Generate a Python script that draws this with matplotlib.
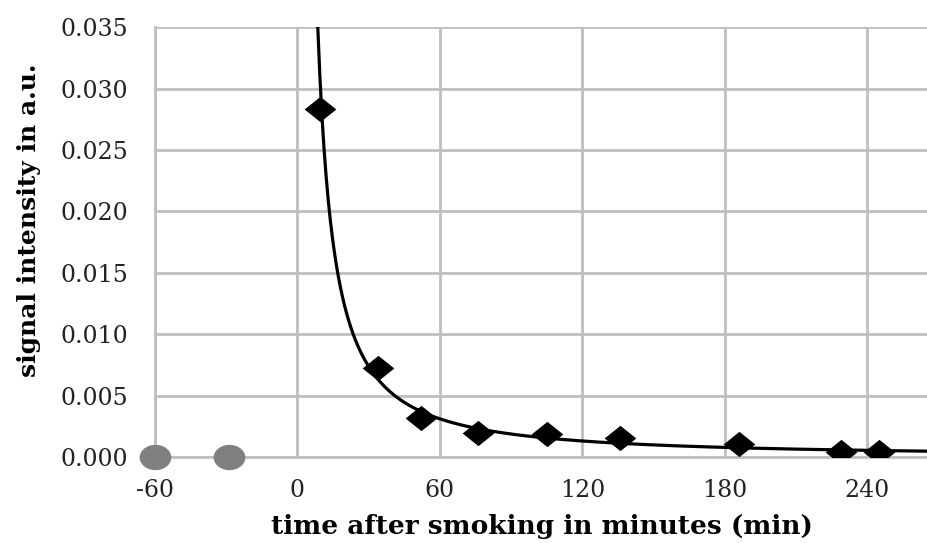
import matplotlib
matplotlib.use("Agg")
import matplotlib.pyplot as plt
import numpy as np

# measured signal after smoking (min, a.u.)
t_after = [9.5, 34, 52, 76, 105, 136, 186, 229, 245]
signal_after = [0.0283, 0.0073, 0.0032, 0.00195, 0.0019, 0.0016, 0.00106, 0.00042, 0.00042]

# baseline measurements before smoking
t_before = [-60, -29]
signal_before = [0.0, 0.0]

x_ticks = [-60, 0, 60, 120, 180, 240]
y_ticks = [0.000, 0.005, 0.010, 0.015, 0.020, 0.025, 0.030, 0.035]

plt.rcParams['font.family'] = ['DejaVu Serif']
plt.rcParams['axes.unicode_minus'] = False

fig = plt.figure(figsize=(9.28, 5.43), dpi=100)
ax = fig.add_axes([0.167, 0.158, 0.833, 0.792])

# power-law trendline, fitted in log space like a spreadsheet trendline
b, log_a = np.polyfit(np.log(t_after), np.log(signal_after), 1)
a = np.exp(log_a)
x_start = (0.035 / a) ** (1 / b)
xs = np.linspace(x_start, 270, 600)
ax.plot(xs, a * xs ** b, color='black', lw=2.3, zorder=3)

# markers a little wider than tall
diamond = [(-1.25, 0), (0, 1), (1.25, 0), (0, -1), (-1.25, 0)]
theta = np.linspace(0, 2 * np.pi, 60)
oval = list(zip(1.25 * np.cos(theta), np.sin(theta)))

ax.scatter(t_after, signal_after, marker=diamond, s=520, color='black', zorder=4, linewidths=0)
ax.scatter(t_before, signal_before, marker=oval, s=520, color='#808080', zorder=4,
           linewidths=0, clip_on=False)

ax.set_xlim(-60, 265.6)
ax.set_ylim(0, 0.035)
ax.set_xticks(x_ticks)
ax.set_yticks(y_ticks)
ax.set_yticklabels(["%.3f" % v for v in y_ticks])
ax.grid(True, color='#BFBFBF', lw=2)
ax.set_axisbelow(True)
for side in ['top', 'right']:
    ax.spines[side].set_visible(False)
for side in ['left', 'bottom']:
    ax.spines[side].set_color('#BFBFBF')
    ax.spines[side].set_linewidth(2)
ax.tick_params(axis='both', length=0, labelsize=17, colors='#222222')
ax.tick_params(axis='y', pad=19.5)
ax.tick_params(axis='x', pad=16)

ax.set_xlabel("time after smoking in minutes (min)", fontsize=19, fontweight='bold', labelpad=8)
ax.set_ylabel("signal intensity in a.u.", fontsize=18, fontweight='bold')
ax.yaxis.set_label_coords(-0.147, 0.551)

fig.savefig("out.png", dpi=100)
